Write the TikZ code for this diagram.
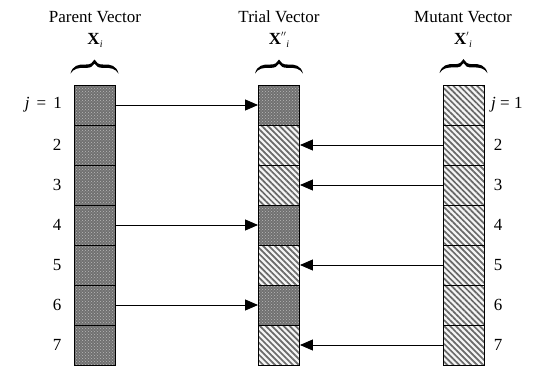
\documentclass[tikz,border=0pt]{standalone}
\usepackage{fontspec}
\setmainfont{Liberation Serif}
\usetikzlibrary{patterns,patterns.meta,arrows.meta,calc}
\begin{document}
\begin{tikzpicture}[x=1pt,y=-1pt,
  cell/.style={draw=black,line width=0.9pt,minimum width=41pt,minimum height=40pt,inner sep=0pt},
  darkcell/.style={cell,preaction={fill={rgb,255:red,112;green,112;blue,112}},pattern=crosshatch dots,pattern color=gray!55},
  hatchcell/.style={cell,preaction={fill=gray!8},pattern={Lines[angle=-45,distance=4.2pt,line width=1.7pt]},pattern color={rgb,255:red,105;green,105;blue,105}},
  lbl/.style={font=\fontsize{17}{20}\selectfont,inner sep=0pt},
  arr/.style={line width=0.9pt,-{Triangle[length=13pt,width=11pt]}},
  bracepic/.pic={
    \fill (-24,14) .. controls (-22,6) and (-16,4.5) .. (-9,5) .. controls (-4,5.3) and (-1.5,3) .. (0,0)
          .. controls (1.5,3) and (4,5.3) .. (9,5) .. controls (16,4.5) and (22,6) .. (24,14)
          .. controls (21,9) and (16,8) .. (9,8.3) .. controls (4,8.5) and (1.5,7) .. (0,4)
          .. controls (-1.5,7) and (-4,8.5) .. (-9,8.3) .. controls (-16,8) and (-21,9) .. (-24,14) -- cycle;
  }
]
\useasboundingbox (0,0) rectangle (537,369);
% cells
\foreach \k in {1,...,7}{
  \node[darkcell] (p\k) at (94.5,{105+40*(\k-1)}) {};
  \node[hatchcell] (m\k) at (463.5,{105+40*(\k-1)}) {};
}
\foreach \k in {1,4,6}{ \node[darkcell] (t\k) at (279,{105+40*(\k-1)}) {}; }
\foreach \k in {2,3,5,7}{ \node[hatchcell] (t\k) at (279,{105+40*(\k-1)}) {}; }
% headers
\node[lbl] (hp) at (95,17) {Parent Vector};
\node[lbl] (xp) at (95,40) {\textbf{X}\raisebox{-3pt}{\fontsize{10}{10}\selectfont\textit{i}}};
\node[lbl] (ht) at (279,17) {Trial Vector};
\node[lbl] (xt) at (279,40) {\textbf{X}\raisebox{4pt}{\fontsize{11}{11}\selectfont$''$}\raisebox{-3pt}{\fontsize{10}{10}\selectfont\textit{i}}};
\node[lbl] (hm) at (463,17) {Mutant Vector};
\node[lbl] (xm) at (463,40) {\textbf{X}\raisebox{4pt}{\fontsize{11}{11}\selectfont$'$}\raisebox{-3pt}{\fontsize{10}{10}\selectfont\textit{i}}};
% braces
\path ($(p1.north)+(0,-25)$) pic {bracepic};
\path ($(t1.north)+(0,-25)$) pic {bracepic};
\path ($(m1.north)+(0,-25)$) pic {bracepic};
% row labels
\node[lbl,anchor=east] (jl) at (62,105) {\textit{j}\, =\, 1};
\node[lbl,anchor=west] (jr) at (491,105) {\textit{j} = 1};
\foreach \k in {2,...,7}{
  \node[lbl] (l\k) at (57,{105+40*(\k-1)}) {\k};
  \node[lbl] (r\k) at (498,{105+40*(\k-1)}) {\k};
}
% arrows
\foreach \k in {1,4,6}{ \draw[arr] (p\k.east) -- (t\k.west); }
\foreach \k in {2,3,5,7}{ \draw[arr] (m\k.west) -- (t\k.east); }
\end{tikzpicture}
\end{document}
